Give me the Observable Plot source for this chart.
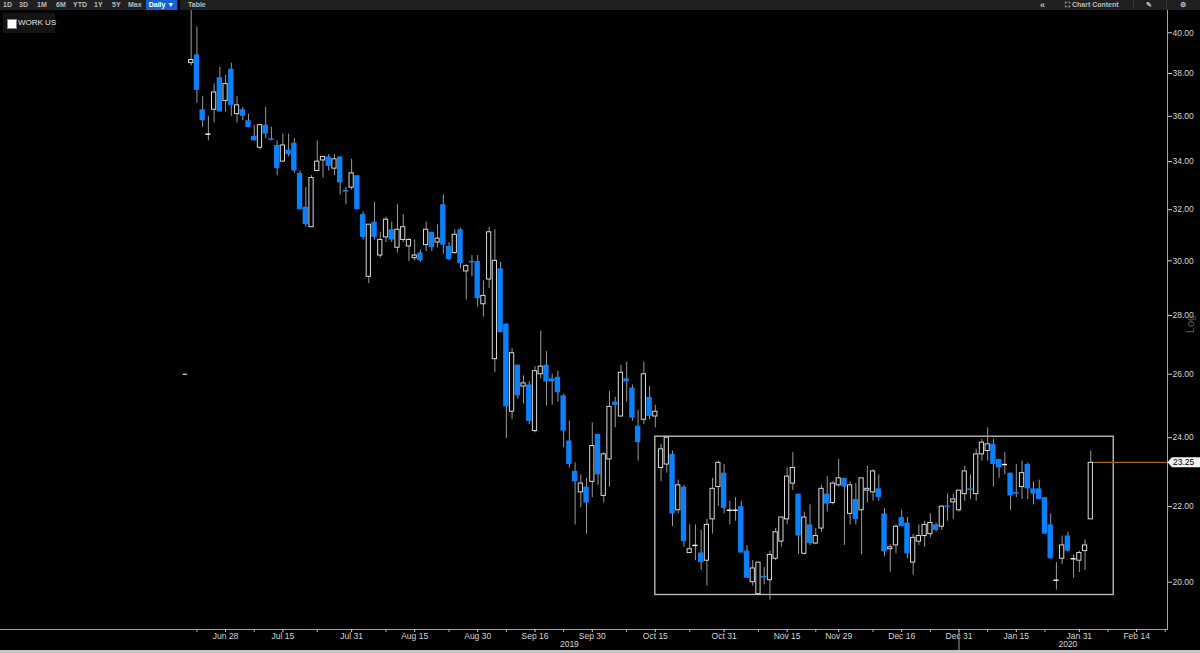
<!DOCTYPE html>
<html>
<head>
<meta charset="utf-8">
<script src="https://cdn.jsdelivr.net/npm/d3@7"></script>
<script src="https://cdn.jsdelivr.net/npm/@observablehq/plot@0.6"></script>
<style>
html,body{margin:0;padding:0;background:#000;}
#wrap{position:relative;width:1200px;height:653px;overflow:hidden;background:#000;font-family:"Liberation Sans",Arial,sans-serif;}
#chart{position:absolute;left:0;top:0;}
#toolbar{position:absolute;left:0;top:0;width:1200px;height:10px;background:#202020;}
.tb{position:absolute;top:0;height:10px;line-height:10px;font-size:7px;font-weight:bold;color:#bcbcbc;white-space:nowrap;}
.daily{background:#1662d4;color:#fff;text-align:center;}
.sep{position:absolute;top:0;height:10px;width:2px;background:#000;}
#legend{position:absolute;left:3px;top:13px;width:52px;height:20px;background:#141414;}
#legend .sq{position:absolute;left:4px;top:6px;width:8px;height:8px;background:#fff;border:0.5px solid #888;}
#legend .lt{position:absolute;left:15px;top:0;height:20px;line-height:20px;font-size:8px;color:#e4e4e4;white-space:nowrap;}
#loglbl{position:absolute;left:1190px;top:324px;font-size:11px;line-height:11px;color:#5c5c5c;white-space:nowrap;transform:translate(-50%,-50%) rotate(-90deg);}
#bottombar{position:absolute;left:0;top:650px;width:1200px;height:3px;background:#c6c6c6;}
</style>
</head>
<body>
<div id="wrap">
  <div id="chart"></div>
  <div id="toolbar">
    <span class="tb" style="left:3px">1D</span>
    <span class="tb" style="left:19px">3D</span>
    <span class="tb" style="left:37px">1M</span>
    <span class="tb" style="left:56px">6M</span>
    <span class="tb" style="left:73px">YTD</span>
    <span class="tb" style="left:94px">1Y</span>
    <span class="tb" style="left:112px">5Y</span>
    <span class="tb" style="left:128px">Max</span>
    <span class="tb daily" style="left:146px;width:31px">Daily ▼</span>
    <span class="sep" style="left:178px"></span>
    <span class="tb" style="left:188px">Table</span>
    <span class="tb" style="left:1040px;font-size:9px">«</span>
    <span class="tb" style="left:1065px">⛶ Chart Content</span>
    <span class="sep" style="left:1133px;width:1px;background:#333"></span>
    <span class="tb" style="left:1146px">✎</span>
    <span class="sep" style="left:1166px;width:1px;background:#333"></span>
    <span class="tb" style="left:1180px">⚙</span>
  </div>
  <div id="legend"><span class="sq"></span><span class="lt">WORK US</span></div>
  <div id="loglbl">Log</div>
  <div id="bottombar"></div>
</div>
<script>
// ---------------- data ----------------
const ticker = "WORK US";
const startDate = "2019-06-20";
const holidays = ["2019-07-04","2019-09-02","2019-11-28","2019-12-25","2020-01-01","2020-01-20","2020-02-17"];

const opens = [38.50,38.90,36.30,35.20,36.30,37.80,36.70,38.20,36.10,36.30,
35.80,35.10,34.60,35.60,35.00,34.70,34.00,34.50,34.80,33.50,
32.10,31.30,33.60,34.05,34.20,33.70,34.20,32.80,32.90,33.40,
31.80,29.40,31.50,30.20,30.90,31.20,30.50,30.80,30.55,30.10,
30.30,30.60,31.10,30.70,32.20,30.55,30.30,31.20,29.60,30.00,
29.97,28.40,29.30,26.50,29.70,27.70,24.80,26.30,25.60,25.65,
24.20,26.00,26.30,25.85,25.90,25.30,23.90,23.00,22.40,22.55,
22.70,24.10,22.30,23.35,25.10,24.65,25.85,25.55,24.35,24.55,
25.25,24.65,23.10,23.20,23.50,21.90,22.55,20.75,20.95,20.75,
20.55,21.65,22.55,22.95,21.90,21.90,22.00,20.80,20.00,19.70,
20.16,20.05,20.60,21.05,21.65,22.65,22.35,20.73,21.50,21.00,
21.40,22.35,22.10,22.60,22.80,21.80,22.20,21.90,22.45,22.40,
22.50,21.80,20.85,20.95,21.70,21.55,20.50,21.05,21.20,21.25,
21.50,21.45,22.02,22.12,21.90,22.35,22.50,22.35,23.50,23.60,
23.80,23.35,23.20,22.95,22.40,22.55,23.20,22.50,22.50,22.25,
21.50,20.05,20.60,21.20,20.60,20.55,20.80,21.65];

const highs = [42.00,40.30,36.90,36.00,37.50,38.30,37.90,38.50,36.90,36.40,
36.10,35.60,35.60,36.40,35.50,34.90,35.20,35.20,35.00,33.60,
32.90,33.40,34.90,34.20,34.30,34.30,34.20,32.90,34.10,33.40,
31.90,31.40,32.30,31.10,31.70,31.50,32.20,31.80,30.85,30.80,
30.40,31.50,31.10,31.40,32.60,30.70,31.20,31.25,29.85,30.20,
30.20,29.25,31.30,31.20,29.95,27.70,26.85,26.30,25.95,25.75,
26.25,27.45,26.75,26.00,26.10,25.35,24.50,23.25,22.90,22.80,
24.45,24.10,23.55,25.45,25.25,26.30,26.40,25.65,24.85,26.40,
25.60,25.00,23.80,24.05,23.60,22.75,22.60,21.50,21.50,21.35,
21.65,22.80,23.30,23.20,22.15,22.25,22.15,20.95,20.55,20.50,
20.37,20.80,21.40,21.70,23.10,23.55,22.35,21.85,22.05,21.40,
22.60,22.85,22.70,23.35,22.80,22.70,22.65,22.80,23.15,23.05,
22.90,21.95,20.97,21.50,21.90,21.70,21.25,21.50,21.60,21.80,
21.55,22.02,22.35,22.35,22.45,23.15,22.90,23.65,23.95,24.30,
23.95,23.35,23.55,22.95,23.20,23.30,23.25,22.70,22.75,22.25,
21.80,20.50,21.20,21.30,20.70,20.80,21.10,23.60];

const lows = [38.36,36.60,35.50,34.90,35.70,36.20,36.20,36.00,35.70,35.80,
35.50,34.90,34.50,35.00,34.90,33.40,34.00,34.20,33.50,32.00,
31.30,31.30,33.60,33.30,33.60,33.40,32.60,32.20,32.80,32.00,
30.80,29.15,30.80,30.10,30.70,30.70,30.30,30.70,29.97,30.00,
29.95,30.35,30.35,30.50,30.25,30.00,30.25,29.70,28.55,29.40,
28.30,27.95,28.97,26.05,27.40,23.97,24.55,25.20,25.05,24.40,
24.15,25.85,24.98,25.00,25.10,23.70,23.10,21.50,21.97,21.25,
22.25,22.60,22.10,22.55,24.30,24.63,25.10,24.50,23.30,24.40,
24.55,24.30,22.70,22.95,21.45,21.80,20.90,20.73,20.55,20.30,
19.90,21.25,22.00,21.80,21.50,21.60,20.75,20.10,19.90,19.70,
19.93,19.55,20.55,20.90,21.50,22.45,20.70,20.70,20.95,20.97,
21.30,21.85,22.05,22.55,20.95,21.50,21.50,20.70,22.10,22.15,
22.15,20.65,20.25,20.73,21.45,20.60,20.18,20.95,20.90,21.15,
21.30,21.35,21.60,21.65,21.85,22.15,22.20,22.15,23.30,23.30,
22.55,22.80,22.90,21.90,22.25,22.20,22.20,22.05,22.20,21.25,
20.60,19.80,20.45,20.78,20.10,20.25,20.30,21.65];

const closes = [38.65,37.20,35.80,35.20,37.10,36.20,37.50,36.50,36.50,36.00,
35.50,34.90,35.60,35.20,34.98,33.70,34.70,34.30,33.60,32.00,
31.40,33.30,34.00,34.20,33.80,34.10,33.10,32.77,33.50,32.00,
30.90,31.40,30.90,30.80,31.60,30.80,31.20,31.30,30.80,30.20,
30.00,31.20,30.50,30.85,30.60,30.05,31.00,29.90,29.80,29.97,
28.60,28.70,31.10,30.00,27.40,24.95,26.70,25.30,25.70,24.50,
26.10,26.25,25.75,25.75,25.40,24.20,23.20,22.70,22.65,22.10,
23.75,22.90,23.50,24.95,25.00,26.05,25.75,24.60,23.85,26.00,
24.65,24.80,23.65,24.00,21.80,22.60,21.05,20.85,20.95,20.50,
21.50,22.50,23.25,21.95,21.90,21.90,20.75,20.10,20.35,20.50,
20.14,20.70,21.30,21.70,22.85,23.10,21.20,21.70,21.00,21.20,
22.50,22.07,22.65,22.80,22.55,22.60,21.65,22.80,22.50,23.00,
22.25,20.78,20.90,21.45,21.45,20.73,21.15,21.20,21.50,21.55,
21.35,22.00,21.98,22.20,22.45,23.00,22.45,23.50,23.85,23.80,
23.20,23.10,23.20,22.30,22.35,22.95,22.50,22.35,22.20,21.25,
20.60,20.05,20.95,20.80,20.60,20.75,20.95,23.25];

const yTicks = [20, 22, 24, 26, 28, 30, 32, 34, 36, 38, 40];
const tickDates = ["2019-06-28","2019-07-15","2019-07-31","2019-08-15","2019-08-30","2019-09-16","2019-09-30","2019-10-15","2019-10-31","2019-11-15","2019-11-29","2019-12-16","2019-12-31","2020-01-15","2020-01-31","2020-02-14"];
const tickLabels = ["Jun 28","Jul 15","Jul 31","Aug 15","Aug 30","Sep 16","Sep 30","Oct 15","Oct 31","Nov 15","Nov 29","Dec 16","Dec 31","Jan 15","Jan 31","Feb 14"];
const minorTickDates = ["2019-06-21","2019-07-08","2019-07-23","2019-08-08","2019-08-23","2019-09-09","2019-09-23","2019-10-08","2019-10-23","2019-11-08","2019-11-22","2019-12-09","2019-12-23","2020-01-08","2020-01-23","2020-02-07","2020-02-24"];
const yearLabels = ["2019","2020"];
const yearLabelDates = ["2019-09-24","2020-01-29"];
const yearBreakDate = "2019-12-31";
const refPrice = 26;            // listing reference price, shown the day before trading
const refIdx = -1;
const boxStartDate = "2019-10-15";
const boxEndDate = "2020-02-10";
const boxLow = 19.68;
const boxHigh = 24.03;

// ---------------- build ----------------
const days = [];
{
  const hol = new Set(holidays);
  let t = Date.parse(startDate + "T00:00:00Z");
  while (days.length < 180) {
    const d = new Date(t);
    const dow = d.getUTCDay();
    const iso = d.toISOString().slice(0, 10);
    if (dow !== 0 && dow !== 6 && !hol.has(iso)) days.push(iso);
    t += 86400000;
  }
}
const idxOf = iso => days.indexOf(iso);

const candles = opens.map((o, i) => ({i, date: days[i], open: o, high: highs[i], low: lows[i], close: closes[i]}));
const isDoji = d => Math.abs(d.close - d.open) < 0.035;
const downBodies = candles.filter(d => !isDoji(d) && d.close < d.open);
const upBodies = candles.filter(d => !isDoji(d) && d.close >= d.open);
const dojiUp = candles.filter(d => isDoji(d) && d.close >= d.open);
const dojiDown = candles.filter(d => isDoji(d) && d.close < d.open);
const last = candles[candles.length - 1];

const tickIdx = tickDates.map(idxOf);
const minorIdx = minorTickDates.map(idxOf);
const yearData = yearLabels.map((l, k) => ({label: l, i: idxOf(yearLabelDates[k])}));
const box = {x1: idxOf(boxStartDate), x2: idxOf(boxEndDate), y1: boxLow, y2: boxHigh};

const BLUE = "#0b80fb";
const WICK = "#9a9a9a";
const HOLLOW = "#d8d8d8";
const AXIS = "#a4a4a4";
const TXT = "#d4d4d4";
const W = 1200, H = 653, MR = 33, MB = 24, MT = 10;

const chart = Plot.plot({
  width: W, height: H,
  marginTop: MT, marginBottom: MB, marginLeft: 0, marginRight: MR,
  style: {background: "#000", color: TXT, fontFamily: "Liberation Sans, Arial, sans-serif", fontSize: "8.5px", overflow: "visible"},
  x: {type: "linear", domain: [0, 157], range: [190.7, 1090.3], label: null},
  y: {type: "log", domain: [20, 40], range: [581.7, 32.3], label: null},
  marks: [
    Plot.frame({anchor: "right", stroke: AXIS}),
    Plot.frame({anchor: "bottom", stroke: AXIS}),
    Plot.rect([box], {x1: "x1", x2: "x2", y1: "y1", y2: "y2", fill: "none", stroke: "#c4c4c4", strokeWidth: 1.3}),
    Plot.ruleY([refPrice], {y: d => d, x1: () => refIdx - 0.4, x2: () => refIdx + 0.4, stroke: "#ffffff", strokeWidth: 1}),
    Plot.ruleX(candles, {x: "i", y1: "low", y2: "high", stroke: WICK, strokeWidth: 1, clip: true}),
    Plot.rect(downBodies, {x1: d => d.i - 0.47, x2: d => d.i + 0.47, y1: "open", y2: "close", fill: BLUE, clip: true}),
    Plot.rect(upBodies, {x1: d => d.i - 0.37, x2: d => d.i + 0.37, y1: "open", y2: "close", fill: "#000", stroke: HOLLOW, strokeWidth: 1, clip: true}),
    Plot.ruleY(dojiUp, {y: "close", x1: d => d.i - 0.45, x2: d => d.i + 0.45, stroke: "#ffffff", strokeWidth: 1.4}),
    Plot.ruleY(dojiDown, {y: "close", x1: d => d.i - 0.47, x2: d => d.i + 0.47, stroke: BLUE, strokeWidth: 1.6}),
    Plot.axisY(yTicks, {anchor: "right", tickFormat: d => d.toFixed(2), tickSize: 4, tickPadding: 1, color: TXT, fontSize: 8.5, label: null}),
    Plot.axisX(tickIdx, {tickFormat: d => tickLabels[tickIdx.indexOf(d)], tickSize: 3, tickPadding: 0.5, color: TXT, fontSize: 8.5, label: null}),
    Plot.axisX(minorIdx, {tickFormat: () => "", tickSize: 3, color: "#b0b0b0", label: null}),
    Plot.axisX([idxOf(yearBreakDate)], {tickFormat: () => "", tickSize: 24, color: "#9a9a9a", label: null}),
    Plot.text(yearData, {x: "i", text: "label", frameAnchor: "bottom", dy: 17.5, fill: TXT, fontSize: 8.5})
  ]
});

// last-price line and tag on the axis
{
  const sx = chart.scale("x"), sy = chart.scale("y");
  const py = sy.apply(last.close);
  const px = sx.apply(last.i);
  const xr = W - MR;
  const g = d3.select(chart).append("g");
  g.insert("line", ":first-child");
  d3.select(chart).insert("line", "g[aria-label='rule']")
    .attr("x1", px).attr("x2", xr).attr("y1", py).attr("y2", py)
    .attr("stroke", "#a5650c").attr("stroke-width", 1.2);
  g.append("path")
    .attr("d", `M${xr + 0.5},${py} L${xr + 5},${py - 5} H${W} V${py + 5} H${xr + 5} Z`)
    .attr("fill", "#f2f2f2");
  g.append("text")
    .attr("x", xr + 6).attr("y", py).attr("dy", "0.35em")
    .attr("text-anchor", "start")
    .attr("font-size", 8.5).attr("fill", "#000")
    .attr("font-family", "Liberation Sans, Arial, sans-serif")
    .text(last.close.toFixed(2));
}

document.getElementById("chart").appendChild(chart);
</script>
</body>
</html>
